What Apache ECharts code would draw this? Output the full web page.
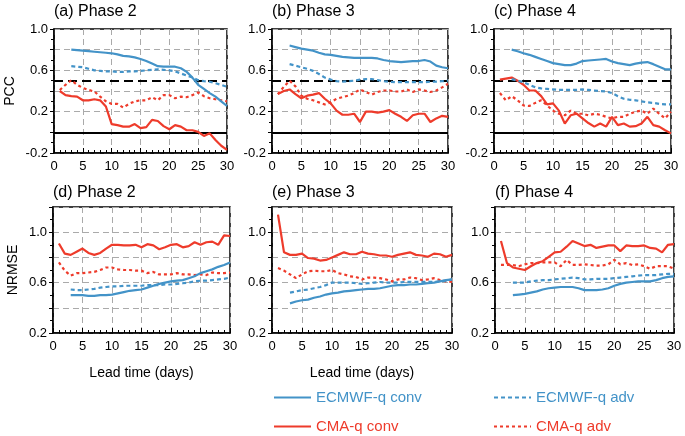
<!DOCTYPE html>
<html lang="en" style="height: 100%">
<head>
    <meta charset="UTF-8">
    <title>PCC / NRMSE</title>
    <script src="https://cdn.jsdelivr.net/npm/echarts@6/dist/echarts.min.js"></script>
</head>
<body style="height: 100%; margin: 0; background: #fff">
<div id="container" style="width: 685px; height: 436px"></div>

<script type="text/javascript">
    // lead time: red series start at day 1, blue series at day 3
    var redStart = 1, blueStart = 3;

    // ---- PCC (top row) ----
    var ecConvA = [0.80,0.795,0.79,0.785,0.78,0.775,0.77,0.765,0.755,0.74,0.735,0.725,0.71,0.69,0.665,0.64,0.635,0.635,0.635,0.62,0.585,0.53,0.46,0.42,0.38,0.345,0.30,0.255];
    var ecAdvA = [0.64,0.635,0.63,0.615,0.60,0.595,0.59,0.59,0.585,0.585,0.59,0.59,0.595,0.60,0.605,0.61,0.605,0.60,0.59,0.57,0.55,0.53,0.505,0.495,0.49,0.475,0.46,0.44];
    var cmaConvA = [0.40,0.36,0.35,0.345,0.31,0.31,0.32,0.31,0.25,0.08,0.07,0.055,0.055,0.08,0.04,0.05,0.12,0.11,0.06,0.03,0.07,0.055,0.02,0.02,0.005,-0.035,-0.01,-0.075,-0.13,-0.17];
    var cmaAdvA = [0.41,0.46,0.505,0.46,0.43,0.41,0.395,0.345,0.30,0.275,0.275,0.24,0.275,0.30,0.31,0.31,0.34,0.31,0.36,0.36,0.33,0.345,0.34,0.36,0.385,0.35,0.33,0.32,0.31,0.30];

    var ecConvB = [0.84,0.825,0.81,0.80,0.79,0.77,0.755,0.75,0.74,0.73,0.725,0.72,0.72,0.72,0.72,0.715,0.70,0.69,0.685,0.68,0.685,0.69,0.69,0.70,0.685,0.645,0.63,0.62];
    var ecAdvB = [0.66,0.645,0.63,0.615,0.595,0.565,0.53,0.51,0.495,0.49,0.495,0.50,0.51,0.515,0.515,0.505,0.495,0.49,0.485,0.485,0.485,0.485,0.485,0.485,0.49,0.49,0.495,0.50];
    var cmaConvB = [0.37,0.40,0.415,0.37,0.33,0.355,0.365,0.38,0.325,0.28,0.21,0.17,0.17,0.18,0.10,0.20,0.20,0.19,0.20,0.215,0.18,0.15,0.11,0.165,0.18,0.18,0.10,0.135,0.16,0.15];
    var cmaAdvB = [0.37,0.44,0.50,0.445,0.355,0.325,0.31,0.29,0.27,0.29,0.325,0.34,0.355,0.38,0.415,0.39,0.365,0.39,0.405,0.405,0.395,0.395,0.415,0.39,0.415,0.405,0.39,0.405,0.435,0.47];

    var ecConvC = [0.80,0.785,0.765,0.75,0.73,0.71,0.69,0.67,0.66,0.65,0.65,0.665,0.69,0.695,0.70,0.705,0.71,0.685,0.67,0.66,0.65,0.665,0.675,0.68,0.66,0.635,0.61,0.61];
    var ecAdvC = [0.515,0.50,0.485,0.46,0.435,0.425,0.42,0.415,0.41,0.41,0.41,0.41,0.415,0.41,0.405,0.40,0.395,0.38,0.35,0.325,0.315,0.31,0.30,0.29,0.285,0.275,0.27,0.27];
    var cmaConvC = [0.51,0.52,0.53,0.50,0.46,0.405,0.405,0.35,0.27,0.28,0.21,0.085,0.165,0.18,0.135,0.09,0.055,0.085,0.055,0.15,0.07,0.085,0.055,0.06,0.085,0.15,0.07,0.055,0.02,-0.01];
    var cmaAdvC = [0.38,0.31,0.35,0.31,0.26,0.255,0.285,0.31,0.26,0.21,0.18,0.165,0.21,0.18,0.18,0.165,0.18,0.17,0.15,0.135,0.15,0.15,0.18,0.20,0.21,0.18,0.23,0.18,0.135,0.20];

    // ---- NRMSE (bottom row) ----
    var ecConvD = [0.50,0.50,0.50,0.495,0.495,0.50,0.50,0.505,0.515,0.525,0.535,0.54,0.545,0.56,0.575,0.59,0.60,0.61,0.615,0.62,0.635,0.65,0.675,0.69,0.705,0.725,0.74,0.76];
    var ecAdvD = [0.545,0.54,0.54,0.545,0.55,0.56,0.565,0.57,0.57,0.575,0.575,0.575,0.575,0.58,0.58,0.58,0.585,0.585,0.59,0.595,0.60,0.61,0.615,0.615,0.62,0.625,0.63,0.64];
    var cmaConvD = [0.91,0.83,0.82,0.845,0.87,0.835,0.82,0.835,0.87,0.90,0.90,0.895,0.895,0.90,0.88,0.905,0.895,0.865,0.88,0.90,0.905,0.88,0.89,0.92,0.90,0.92,0.925,0.90,0.975,0.97];
    var cmaAdvD = [0.76,0.695,0.655,0.675,0.675,0.68,0.685,0.70,0.72,0.72,0.705,0.70,0.70,0.695,0.695,0.675,0.685,0.665,0.665,0.665,0.675,0.665,0.665,0.66,0.665,0.66,0.68,0.675,0.675,0.68];

    var ecConvE = [0.435,0.45,0.46,0.465,0.48,0.49,0.505,0.515,0.52,0.53,0.535,0.54,0.545,0.55,0.55,0.555,0.565,0.575,0.58,0.58,0.585,0.585,0.59,0.595,0.60,0.61,0.62,0.625];
    var ecAdvE = [0.52,0.53,0.54,0.545,0.555,0.565,0.58,0.60,0.60,0.60,0.60,0.595,0.59,0.595,0.60,0.605,0.60,0.60,0.60,0.605,0.605,0.605,0.605,0.605,0.605,0.61,0.615,0.625];
    var cmaConvE = [1.14,0.84,0.82,0.82,0.83,0.795,0.79,0.775,0.78,0.80,0.82,0.84,0.825,0.825,0.845,0.83,0.825,0.815,0.815,0.805,0.82,0.83,0.84,0.82,0.815,0.805,0.83,0.825,0.805,0.82];
    var cmaAdvE = [0.715,0.695,0.665,0.635,0.665,0.69,0.695,0.69,0.69,0.70,0.675,0.665,0.65,0.645,0.625,0.64,0.64,0.635,0.625,0.61,0.625,0.625,0.64,0.635,0.62,0.625,0.635,0.62,0.61,0.605];

    var ecConvF = [0.50,0.505,0.51,0.52,0.53,0.545,0.555,0.56,0.565,0.565,0.565,0.555,0.54,0.54,0.54,0.545,0.555,0.575,0.59,0.60,0.605,0.61,0.61,0.61,0.62,0.635,0.645,0.65];
    var ecAdvF = [0.60,0.60,0.60,0.61,0.615,0.62,0.62,0.625,0.63,0.635,0.64,0.635,0.625,0.625,0.63,0.63,0.63,0.635,0.64,0.645,0.65,0.655,0.66,0.66,0.66,0.665,0.67,0.67];
    var cmaConvF = [0.93,0.755,0.72,0.71,0.70,0.73,0.755,0.77,0.805,0.84,0.845,0.885,0.93,0.91,0.89,0.90,0.875,0.885,0.895,0.895,0.85,0.895,0.89,0.89,0.895,0.875,0.87,0.84,0.90,0.905];
    var cmaAdvF = [0.74,0.74,0.74,0.73,0.745,0.755,0.755,0.76,0.76,0.76,0.73,0.78,0.74,0.74,0.745,0.74,0.735,0.735,0.745,0.78,0.745,0.755,0.74,0.745,0.73,0.71,0.73,0.73,0.73,0.71];

    var panelTitles = ['(a) Phase 2', '(b) Phase 3', '(c) Phase 4', '(d) Phase 2', '(e) Phase 3', '(f) Phase 4'];
    var seriesNames = ['ECMWF-q conv', 'ECMWF-q adv', 'CMA-q conv', 'CMA-q adv'];

    var panels = [
        [ecConvA, ecAdvA, cmaConvA, cmaAdvA],
        [ecConvB, ecAdvB, cmaConvB, cmaAdvB],
        [ecConvC, ecAdvC, cmaConvC, cmaAdvC],
        [ecConvD, ecAdvD, cmaConvD, cmaAdvD],
        [ecConvE, ecAdvE, cmaConvE, cmaAdvE],
        [ecConvF, ecAdvF, cmaConvF, cmaAdvF]
    ];

    var BLUE = '#4393c8', RED = '#ee3b2b';
    var FONT = 'Liberation Sans, Arial, sans-serif';

    var boxes = [
        {left: 54, top: 29, width: 173, height: 124},
        {left: 272, top: 29, width: 176, height: 124},
        {left: 494, top: 29, width: 177, height: 124},
        {left: 53, top: 207, width: 177, height: 126},
        {left: 272, top: 207, width: 180, height: 126},
        {left: 495, top: 207, width: 179, height: 126}
    ];

    function pairs(start, values) {
        return values.map(function (v, i) { return [start + i, v]; });
    }

    var dom = document.getElementById('container');
    var myChart = echarts.init(dom);

    var grid = [], xAxis = [], yAxis = [], series = [], title = [];

    boxes.forEach(function (b, k) {
        var top = k < 3;
        grid.push({left: b.left, top: b.top, width: b.width, height: b.height,
            show: true, borderColor: '#000', borderWidth: 1.5, backgroundColor: 'transparent'});
        title.push({text: panelTitles[k], left: b.left, top: top ? 4 : 185, padding: 0,
            textStyle: {fontFamily: FONT, fontSize: 16, fontWeight: 'normal', color: '#000'}});

        xAxis.push({
            type: 'value', gridIndex: k, min: 0, max: 30, interval: 5,
            name: (k === 3 || k === 4) ? 'Lead time (days)' : '',
            nameLocation: 'middle', nameGap: 33,
            nameTextStyle: {fontFamily: FONT, fontSize: 14, color: '#000'},
            axisLine: {onZero: false, lineStyle: {color: '#000', width: 1.5}},
            axisTick: {inside: true, length: 5, lineStyle: {color: '#000'}},
            minorTick: {show: true, splitNumber: 5, length: 3, lineStyle: {color: '#000'}},
            axisLabel: {fontFamily: FONT, fontSize: 13, color: '#000', margin: 7},
            splitLine: {show: true, lineStyle: {color: '#aaa', type: [6, 4], width: 1}}
        });

        var ymin = top ? -0.2 : 0.2, ymax = top ? 1.0 : 1.2;
        yAxis.push({
            type: 'value', gridIndex: k, min: ymin, max: ymax, interval: 0.2,
            name: k === 0 ? 'PCC' : (k === 3 ? 'NRMSE' : ''),
            nameLocation: 'middle', nameGap: k === 0 ? 37 : 33, nameRotate: 90,
            nameTextStyle: {fontFamily: FONT, fontSize: 14, color: '#000'},
            axisLine: {onZero: false, lineStyle: {color: '#000', width: 1.5}},
            axisTick: {inside: false, length: 4, lineStyle: {color: '#000'}},
            minorTick: {show: true, splitNumber: 2, length: 3, lineStyle: {color: '#000'}},
            axisLabel: {
                fontFamily: FONT, fontSize: 13, color: '#000', margin: 6,
                formatter: function (v) {
                    var step = Math.round((v - ymin) * 10);
                    if (step % 4 !== 0) return '';
                    return v.toFixed(1);
                }
            },
            splitLine: {show: true, lineStyle: {color: '#aaa', type: [6, 4], width: 1}}
        });

        var data = panels[k];
        var styles = [
            {color: BLUE, type: 'solid', start: blueStart},
            {color: BLUE, type: [4, 3], start: blueStart},
            {color: RED, type: 'solid', start: redStart},
            {color: RED, type: [3, 3], start: redStart}
        ];
        styles.forEach(function (s, j) {
            var ser = {
                name: seriesNames[j], type: 'line', xAxisIndex: k, yAxisIndex: k,
                data: pairs(s.start, data[j]), showSymbol: false, symbol: 'none',
                lineStyle: {color: s.color, width: 2.2, type: s.type},
                itemStyle: {color: s.color}, z: 6 - j * 0.1
            };
            if (top && j === 2) {
                ser.markLine = {
                    silent: true, symbol: 'none', label: {show: false}, z: 2,
                    data: [
                        {yAxis: 0.5, lineStyle: {color: '#000', width: 2, type: [9, 5]}},
                        {yAxis: 0, lineStyle: {color: '#000', width: 1.8, type: 'solid'}}
                    ]
                };
            }
            series.push(ser);
        });
    });

    var legendSpots = [
        {name: 'ECMWF-q conv', color: BLUE, left: 273, top: 390, w: 37},
        {name: 'ECMWF-q adv', color: BLUE, left: 493, top: 390, w: 37},
        {name: 'CMA-q conv', color: RED, left: 273, top: 419, w: 37},
        {name: 'CMA-q adv', color: RED, left: 493, top: 419, w: 37}
    ];
    var legend = legendSpots.map(function (l) {
        return {
            left: l.left, top: l.top, padding: 0, itemWidth: l.w, itemHeight: 14,
            itemStyle: {opacity: 0},
            textStyle: {fontFamily: FONT, fontSize: 15, color: l.color},
            data: [l.name]
        };
    });

    var option = {
        animation: false,
        backgroundColor: '#fff',
        title: title,
        legend: legend,
        grid: grid,
        xAxis: xAxis,
        yAxis: yAxis,
        series: series
    };

    myChart.setOption(option);
</script>
</body>
</html>
